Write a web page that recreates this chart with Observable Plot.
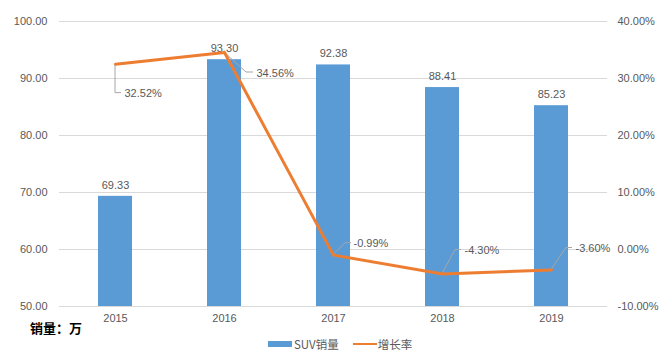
<!DOCTYPE html>
<html>
<head>
<meta charset="utf-8">
<script src="https://cdn.jsdelivr.net/npm/d3@7"></script>
<script src="https://cdn.jsdelivr.net/npm/@observablehq/plot@0.6"></script>
<style>
  body { margin: 0; background: #fff; font-family: "Liberation Sans", Arial, "Noto Sans CJK SC", sans-serif; }
  #wrap { position: relative; width: 669px; height: 360px; }
  #cap { position: absolute; left: 30px; top: 318px; font-size: 13px; font-weight: bold; color: #000; font-family: "Noto Sans CJK SC", sans-serif; }
  #legend { position: absolute; left: 268px; top: 336px; font-size: 11.5px; color: #595959; display: flex; align-items: center; font-family: "Noto Sans CJK SC", sans-serif; }
  .sw { display: inline-block; }
</style>
</head>
<body>
<div id="wrap">
  <div id="chart"></div>
  <div id="cap">销量：万</div>
  <div id="legend">
    <span class="sw" style="width:24px;height:6px;background:#5B9BD5;margin-right:2px"></span><span>SUV销量</span>
    <span class="sw" style="width:24px;height:2.5px;background:#ED7D31;margin-left:14px;margin-right:1px"></span><span>增长率</span>
  </div>
</div>
<script>
const years = ["2015", "2016", "2017", "2018", "2019"];
const sales = [69.33, 93.30, 92.38, 88.41, 85.23];
const growth = [32.52, 34.56, -0.99, -4.30, -3.60];
const leftTicks = [50, 60, 70, 80, 90, 100];
const rightTicks = [-10, 0, 10, 20, 30, 40];

// growth (%) mapped onto left scale: -10..40 -> 50..100
const toLeft = r => r + 60;

const data = years.map((y, i) => ({ year: y, sales: sales[i], growth: growth[i], gy: toLeft(growth[i]) }));

// label layout: leader polyline offsets (px) and text offset
const layout = [
  { pts: [[0, 0], [0, 29], [6, 29]], dx: 9, dy: 29 },
  { pts: [[0, 0], [22, 20], [29, 20]], dx: 32, dy: 21 },
  { pts: [[0, 0], [12, -12], [18, -12]], dx: 20, dy: -12 },
  { pts: [[0, 0], [13, -24], [19, -24]], dx: 22, dy: -24 },
  { pts: [[0, 0], [15, -22], [21, -22]], dx: 24, dy: -22 }
];

const textColor = "#595959";
const fontSize = 11;

const leaderMark = (index, scales) => {
  const sx = scales.x, sy = scales.y;
  const bw = typeof sx.bandwidth === "function" ? sx.bandwidth() : (sx.bandwidth || 0);
  const g = document.createElementNS("http://www.w3.org/2000/svg", "g");
  data.forEach((d, i) => {
    const px = sx(d.year) + bw / 2, py = sy(d.gy);
    const p = document.createElementNS("http://www.w3.org/2000/svg", "polyline");
    p.setAttribute("points", layout[i].pts.map(([a, b]) => `${px + a},${py + b}`).join(" "));
    p.setAttribute("fill", "none");
    p.setAttribute("stroke", "#a6a6a6");
    p.setAttribute("stroke-width", "1");
    g.appendChild(p);
  });
  return g;
};

const rateLabels = data.map((d, i) => Plot.text([d], {
  x: "year", y: "gy", text: d => d.growth.toFixed(2) + "%",
  dx: layout[i].dx, dy: layout[i].dy, textAnchor: "start", fill: textColor, fontSize
}));

const chart = Plot.plot({
  width: 669,
  height: 360,
  marginLeft: 59,
  marginRight: 62,
  marginTop: 21,
  marginBottom: 54,
  style: { fontFamily: "'Liberation Sans', Arial, sans-serif", fontSize: "11px", color: textColor, background: "transparent" },
  x: { domain: years, paddingInner: 0.69, paddingOuter: 0.345, label: null },
  y: { domain: [50, 100], label: null },
  marks: [
    Plot.gridY(leftTicks, { stroke: "#d9d9d9", strokeOpacity: 1 }),
    Plot.barY(data, { x: "year", y1: () => 50, y2: "sales", fill: "#5B9BD5" }),
    Plot.text(data, { x: "year", y: "sales", text: d => d.sales.toFixed(2), dy: -11, fill: textColor, fontSize }),
    leaderMark,
    Plot.line(data, { x: "year", y: "gy", stroke: "#ED7D31", strokeWidth: 3, strokeLinejoin: "round" }),
    ...rateLabels,
    Plot.axisY(leftTicks, { anchor: "left", tickSize: 0, tickPadding: 12, tickFormat: d => d.toFixed(2), fill: textColor, fontSize }),
    Plot.axisY(rightTicks.map(toLeft), { anchor: "right", tickSize: 0, tickPadding: 10, tickFormat: d => (d - 60).toFixed(2) + "%", fill: textColor, fontSize, label: null }),
    Plot.axisX({ tickSize: 0, tickPadding: 8, fill: textColor, fontSize, label: null })
  ]
});
document.getElementById("chart").appendChild(chart);
</script>
</body>
</html>
